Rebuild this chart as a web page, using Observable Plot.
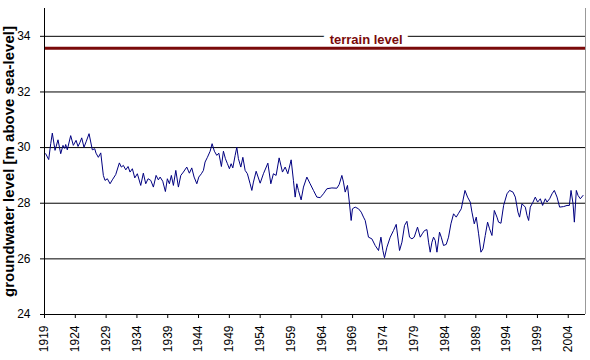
<!DOCTYPE html>
<html><head><meta charset="utf-8">
<script src="https://cdn.jsdelivr.net/npm/d3@7"></script>
<script src="https://cdn.jsdelivr.net/npm/@observablehq/plot@0.6"></script>
<style>
body{margin:0;background:#fff;}
#chart svg{font-family:"Liberation Sans",Arial,sans-serif;background:#fff;}
#chart g[aria-label="y-axis label"] text{font-size:15px;font-weight:bold;fill:#000;}
#chart g[aria-label="y-axis tick label"] text,#chart g[aria-label="x-axis tick label"] text{fill:#000;}
</style></head><body><div id="chart"></div>
<script>
const years = [1919.19,1919.68,1920.01,1920.27,1920.71,1921.19,1921.63,1922.00,1922.28,1922.44,1922.70,1923.25,1923.68,1924.12,1924.44,1924.76,1925.04,1925.41,1925.79,1926.23,1926.76,1927.15,1927.36,1927.74,1928.13,1928.55,1928.82,1929.20,1929.64,1930.01,1930.56,1931.15,1931.47,1931.80,1932.19,1932.56,1932.88,1933.26,1933.65,1934.07,1934.62,1935.04,1935.43,1935.81,1936.25,1936.67,
1937.11,1937.48,1937.76,1938.19,1938.62,1938.94,1939.27,1939.59,1939.92,1940.31,1940.73,1941.12,1941.54,1942.09,1942.51,1942.90,1943.28,1943.72,1944.04,1944.46,1944.79,1945.06,1945.44,1945.88,1946.20,1946.57,1946.96,1947.29,1947.71,1948.04,1948.36,1948.69,1949.01,1949.29,1949.56,1949.94,1950.21,1950.47,1950.86,1951.19,1951.56,1951.93,1952.37,1952.65,1952.91,1953.35,
1954.00,1954.53,1955.25,1955.73,1956.15,1956.59,1957.08,1957.62,1958.06,1958.49,1959.03,1959.40,1959.68,1959.95,1960.21,1960.65,1961.03,1961.58,1962.11,1962.65,1963.20,1963.74,1964.27,1964.83,1965.64,1966.45,1966.82,1967.26,1967.52,1967.80,1968.17,1968.50,1968.77,1968.98,1969.42,1969.96,1970.40,1970.77,1971.05,
1971.58,1972.13,1972.67,1973.21,1973.60,1973.92,1974.18,1974.57,1975.11,1975.64,1976.08,1976.62,1977.01,1977.43,1977.82,1978.24,1978.63,1979.00,1979.54,1979.98,1980.30,1980.68,1981.07,1981.33,1981.60,1981.88,1982.14,1982.41,1982.69,1983.11,1983.39,1983.76,1984.20,1984.57,1984.96,1985.39,1985.82,1986.20,1986.64,1987.24,1987.66,1988.10,
1988.37,1988.75,1989.07,1989.45,1989.83,1990.16,1990.53,1990.91,1991.23,1991.62,1992.00,1992.43,1992.69,1993.08,1993.51,1994.06,1994.48,1995.03,1995.41,1995.84,1996.10,1996.49,1997.03,1997.31,1997.57,1997.84,1998.28,1998.65,1999.03,1999.47,1999.84,2000.28,2000.55,2000.98,2001.37,2001.74,2002.18,2002.60,2003.25,2003.80,2004.18,2004.45,2004.78,2004.99,2005.31,2005.59,2005.96,2006.40];
const levels = [29.78,29.57,30.14,30.52,29.90,30.28,29.78,30.08,29.97,30.11,29.92,30.43,30.08,30.26,30.04,30.19,30.35,30.01,30.23,30.50,29.92,29.96,29.80,29.65,29.81,29.00,28.82,28.88,28.70,28.84,29.03,29.45,29.30,29.36,29.20,29.32,29.12,29.24,28.91,29.06,28.64,29.08,28.70,28.88,28.82,28.58,
29.00,28.84,28.94,28.79,28.42,28.88,28.70,29.00,28.64,29.18,28.58,29.00,29.12,29.30,29.08,29.27,28.94,28.70,28.94,29.06,29.18,29.48,29.65,29.87,30.14,29.87,29.72,29.80,29.32,29.87,29.60,29.42,29.24,29.42,29.27,29.72,30.01,29.60,29.30,29.65,29.18,29.06,28.70,28.46,28.76,29.15,
28.72,29.06,29.44,28.70,29.06,29.00,29.63,29.12,29.30,29.06,29.56,28.82,28.22,28.70,28.46,28.12,28.58,28.94,28.70,28.46,28.22,28.20,28.34,28.52,28.55,28.54,28.67,29.00,28.76,28.40,28.64,27.98,27.38,27.80,27.86,27.80,27.68,27.50,27.38,
26.78,26.72,26.48,26.30,26.78,26.30,26.04,26.42,26.78,27.02,27.24,26.30,26.60,27.20,27.35,26.78,26.72,26.78,27.14,26.78,26.90,27.02,27.05,26.60,26.24,26.60,26.78,26.66,26.24,26.96,26.78,26.48,26.52,26.78,27.26,27.62,27.50,27.64,27.80,28.46,28.22,28.04,
27.68,27.26,27.50,26.90,26.24,26.36,26.84,27.32,27.08,26.84,27.74,27.50,27.32,27.28,27.92,28.34,28.46,28.40,28.22,27.68,27.50,27.98,27.86,27.56,27.38,27.86,28.04,28.22,28.04,28.16,27.92,28.16,28.04,28.16,28.34,28.46,28.22,27.86,27.88,27.92,27.92,28.46,27.98,27.32,28.46,28.28,28.16,28.28];
const tickYears = [1919,1924,1929,1934,1939,1944,1949,1954,1959,1964,1969,1974,1979,1984,1989,1994,1999,2004];
const yTicks = [24,26,28,30,32,34];
const gridLevels = [26,28,30,32,34];
const terrainLevel = 33.57;
const terrainLabel = "terrain level";
const terrainLabelYear = 1971.2;
const yLabel = "groundwater level [m above sea-level]";
const xDomain = [1919, 2006.8];
const yDomain = [24, 35];

const data = years.map((year, i) => ({year, level: levels[i]}));
const labelData = [{year: terrainLabelYear, level: terrainLevel, text: terrainLabel}];

const chart = Plot.plot({
  width: 590, height: 360,
  marginLeft: 44, marginRight: 5, marginTop: 8, marginBottom: 46,
  x: {domain: xDomain},
  y: {domain: yDomain},
  marks: [
    Plot.ruleY(gridLevels, {stroke: "#000", strokeWidth: 1}),
    Plot.ruleX([xDomain[1]], {stroke: "#999"}),
    Plot.text(labelData, {x: "year", y: "level", dy: -8, text: "text", fill: "#7a0a0a", stroke: "#fff", strokeWidth: 12, fontWeight: "bold", fontSize: 13}),
    Plot.ruleY([terrainLevel], {stroke: "#7a0a0a", strokeWidth: 3}),
    Plot.line(data, {x: "year", y: "level", stroke: "#000080", strokeWidth: 1}),
    Plot.ruleX([xDomain[0]], {stroke: "#000"}),
    Plot.ruleY([yDomain[0]], {stroke: "#000"}),
    Plot.axisY(yTicks, {tickSize: 4, tickPadding: 10, fontSize: 12, label: yLabel, labelAnchor: "center", labelArrow: "none", labelOffset: 41}),
    Plot.axisX(tickYears, {tickSize: 4, tickPadding: 7, tickRotate: -90, fontSize: 12, tickFormat: d => String(d), label: null})
  ]
});
document.getElementById("chart").appendChild(chart);
</script></body></html>
